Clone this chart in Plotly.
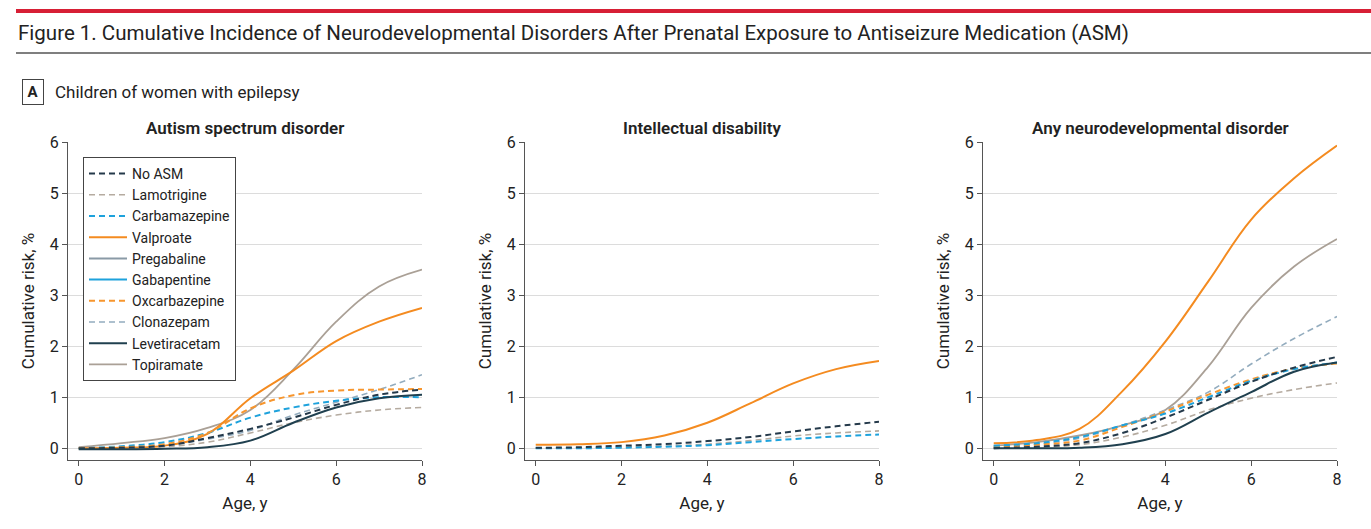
import plotly.graph_objects as go

W, H = 1371, 529

ages = [0, 1, 2, 3, 4, 5, 6, 7, 8]

drugs = ["No ASM", "Lamotrigine", "Carbamazepine", "Valproate", "Pregabaline",
         "Gabapentine", "Oxcarbazepine", "Clonazepam", "Levetiracetam", "Topiramate"]

# autism spectrum disorder, cumulative risk %
asd_no_asm = [0, 0.01, 0.05, 0.2, 0.38, 0.6, 0.85, 1.05, 1.15]
asd_lamotrigine = [0, 0.01, 0.03, 0.12, 0.3, 0.5, 0.65, 0.75, 0.8]
asd_carbamazepine = [0, 0.04, 0.12, 0.3, 0.6, 0.8, 0.93, 1.0, 1.0]
asd_valproate = [0, 0.01, 0.05, 0.28, 0.98, 1.52, 2.1, 2.48, 2.75]
asd_oxcarbazepine = [0, 0.02, 0.08, 0.3, 0.78, 1.04, 1.13, 1.15, 1.16]
asd_clonazepam = [0, 0.01, 0.05, 0.18, 0.35, 0.65, 0.9, 1.15, 1.44]
asd_levetiracetam = [-0.02, -0.02, -0.01, 0.02, 0.15, 0.5, 0.8, 0.98, 1.05]
asd_topiramate = [0.02, 0.1, 0.2, 0.4, 0.75, 1.54, 2.48, 3.17, 3.5]

# intellectual disability
id_no_asm = [0.01, 0.02, 0.05, 0.08, 0.14, 0.22, 0.33, 0.43, 0.52]
id_lamotrigine = [0, 0.01, 0.02, 0.04, 0.08, 0.15, 0.24, 0.3, 0.34]
id_carbamazepine = [0, 0, 0.01, 0.03, 0.06, 0.12, 0.18, 0.23, 0.27]
id_valproate = [0.07, 0.08, 0.12, 0.25, 0.5, 0.88, 1.27, 1.55, 1.71]

# any neurodevelopmental disorder
ndd_no_asm = [0, 0.03, 0.1, 0.3, 0.6, 0.95, 1.3, 1.58, 1.79]
ndd_lamotrigine = [0, 0.02, 0.07, 0.22, 0.45, 0.75, 0.98, 1.15, 1.28]
ndd_carbamazepine = [0.05, 0.1, 0.22, 0.45, 0.68, 1.0, 1.32, 1.55, 1.68]
ndd_valproate = [0.1, 0.16, 0.38, 1.12, 2.09, 3.27, 4.48, 5.29, 5.93]
ndd_oxcarbazepine = [0.03, 0.07, 0.15, 0.42, 0.72, 1.05, 1.35, 1.56, 1.66]
ndd_clonazepam = [0.02, 0.08, 0.2, 0.45, 0.75, 1.1, 1.65, 2.15, 2.58]
ndd_levetiracetam = [0, 0, 0.01, 0.08, 0.28, 0.7, 1.1, 1.5, 1.68]
ndd_topiramate = [0.05, 0.12, 0.25, 0.45, 0.75, 1.6, 2.75, 3.56, 4.1]

panel_titles = ["Autism spectrum disorder", "Intellectual disability",
                "Any neurodevelopmental disorder"]
x_ticks = [0, 2, 4, 6, 8]
y_ticks = [0, 1, 2, 3, 4, 5, 6]

styles = {
    "No ASM": ("#24394a", "dash", 2),
    "Lamotrigine": ("#b5aba0", "dash", 1.6),
    "Carbamazepine": ("#1ea2dc", "dash", 2),
    "Valproate": ("#f48b20", "solid", 2),
    "Pregabaline": ("#8a9aa6", "solid", 2),
    "Gabapentine": ("#1ea2dc", "solid", 2),
    "Oxcarbazepine": ("#f7962e", "dash", 2),
    "Clonazepam": ("#93acbe", "dash", 1.6),
    "Levetiracetam": ("#20404f", "solid", 2),
    "Topiramate": ("#aaa096", "solid", 1.8),
}

panels = [
    {"Topiramate": asd_topiramate, "Valproate": asd_valproate,
     "Clonazepam": asd_clonazepam, "Lamotrigine": asd_lamotrigine,
     "Carbamazepine": asd_carbamazepine, "Oxcarbazepine": asd_oxcarbazepine,
     "No ASM": asd_no_asm, "Levetiracetam": asd_levetiracetam},
    {"Valproate": id_valproate, "Lamotrigine": id_lamotrigine,
     "Carbamazepine": id_carbamazepine, "No ASM": id_no_asm},
    {"Valproate": ndd_valproate, "Topiramate": ndd_topiramate,
     "Clonazepam": ndd_clonazepam, "Lamotrigine": ndd_lamotrigine,
     "Oxcarbazepine": ndd_oxcarbazepine, "Carbamazepine": ndd_carbamazepine,
     "No ASM": ndd_no_asm, "Levetiracetam": ndd_levetiracetam},
]

FONT = "Roboto, sans-serif"
TXT = "#222222"
DASH = "6px,4px"

fig = go.Figure()

# pixel positions of each plot area
x_doms = [(68, 422), (525, 879), (983, 1337)]
y_dom = [1 - 460 / H, 1 - 142 / H]

for i, data in enumerate(panels):
    ax = "" if i == 0 else str(i + 1)
    for name, vals in data.items():
        color, dash, width = styles[name]
        fig.add_trace(go.Scatter(
            x=ages, y=vals, mode="lines", name=name,
            line=dict(color=color, dash=DASH if dash == "dash" else "solid",
                      width=width, shape="spline", smoothing=1.1),
            xaxis="x" + ax, yaxis="y" + ax, showlegend=False,
        ))

# legend entries, in the order of the reference
for name in drugs:
    color, dash, width = styles[name]
    fig.add_trace(go.Scatter(
        x=[None], y=[None], mode="lines", name=name,
        line=dict(color=color, dash=DASH if dash == "dash" else "solid", width=width),
        showlegend=True,
    ))

axis_common = dict(showline=True, linecolor="#555555", linewidth=1.2, ticks="outside",
                   ticklen=5, tickcolor="#555555", tickfont=dict(family=FONT, size=16, color=TXT),
                   zeroline=False, automargin=False)

for i in range(3):
    ax = "" if i == 0 else str(i + 1)
    x0, x1 = x_doms[i]
    fig.layout["xaxis" + ax] = dict(
        axis_common, domain=[x0 / W, x1 / W], range=[-0.25, 8], tickvals=x_ticks,
        showgrid=False, anchor="y" + ax,
        title=dict(text="Age, y", font=dict(family=FONT, size=17, color=TXT), standoff=8),
    )
    fig.layout["yaxis" + ax] = dict(
        axis_common, domain=y_dom, range=[-0.23, 6], tickvals=y_ticks,
        showgrid=True, gridcolor="#dcdcdc", gridwidth=1, anchor="x" + ax,
        title=dict(text="Cumulative risk, %", font=dict(family=FONT, size=17, color=TXT), standoff=10),
    )
    fig.add_annotation(
        text=panel_titles[i], x=(x0 + x1) / 2 / W, y=1 - 128 / H, xref="paper", yref="paper",
        showarrow=False, font=dict(family=FONT, size=17, color=TXT, weight=600),
        xanchor="center", yanchor="middle",
    )

fig.add_annotation(
    text="Figure 1. Cumulative Incidence of Neurodevelopmental Disorders After Prenatal "
         "Exposure to Antiseizure Medication (ASM)",
    x=16 / W, y=1 - 33 / H, xref="paper", yref="paper", showarrow=False,
    xanchor="left", yanchor="middle", font=dict(family=FONT, size=20.5, color=TXT),
)
fig.add_annotation(
    text="<b>A</b>", x=33 / W, y=1 - 92 / H, xref="paper", yref="paper", showarrow=False,
    xanchor="center", yanchor="middle", font=dict(family=FONT, size=15, color=TXT),
    bordercolor="#444444", borderwidth=1, borderpad=3, width=14,
)
fig.add_annotation(
    text="Children of women with epilepsy", x=53 / W, y=1 - 92 / H, xref="paper", yref="paper",
    showarrow=False, xanchor="left", yanchor="middle",
    font=dict(family=FONT, size=17, color=TXT),
)

fig.add_shape(type="line", xref="paper", yref="paper", x0=16 / W, x1=1, y0=1 - 11 / H,
              y1=1 - 11 / H, line=dict(color="#d71f35", width=4))
fig.add_shape(type="line", xref="paper", yref="paper", x0=16 / W, x1=1, y0=1 - 53 / H,
              y1=1 - 53 / H, line=dict(color="#555555", width=1.5))

fig.update_layout(
    width=W, height=H, margin=dict(l=0, r=0, t=0, b=0, autoexpand=False),
    plot_bgcolor="white", paper_bgcolor="white",
    showlegend=True,
    legend=dict(x=83 / W, y=1 - 157 / H, xanchor="left", yanchor="top",
                bordercolor="#444444", borderwidth=1, bgcolor="white",
                font=dict(family=FONT, size=14, color=TXT), tracegroupgap=0,
                itemwidth=38),
)

fig.write_html("out.html", config={"displayModeBar": False},
               post_script="document.body.style.margin='0';")
